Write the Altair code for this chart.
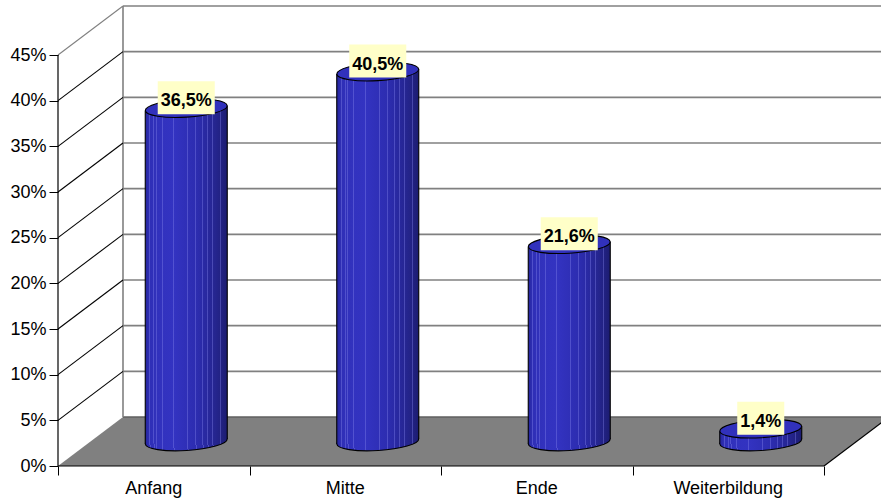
import math

import altair as alt
import pandas as pd

# ---- chart values -------------------------------------------------------
CATEGORIES = ["Anfang", "Mitte", "Ende", "Weiterbildung"]
SHARES = [36.5, 40.5, 21.6, 1.4]
Y_TICKS = [0, 5, 10, 15, 20, 25, 30, 35, 40, 45]

FONT = "Liberation Sans"

# ---- 3D projection geometry ---------------------------------------------
WIDTH, HEIGHT = 823, 460
PX_X = 191.5                 # pixels per category slot along the front edge
PX_Y = 411 / 45              # pixels per percentage point
DX = 65 / PX_X               # depth shift of the back wall (category units)
DY = 49 / PX_Y               # depth shift of the back wall (percent units)
X_MAX = WIDTH / PX_X
Y_MAX = HEIGHT / PX_Y
N = len(CATEGORIES)
TOP = Y_TICKS[-1]

RADIUS_PX = 41
R = RADIUS_PX / PX_X
TILT_DEG = 3.5
T = RADIUS_PX * math.sin(math.radians(TILT_DEG)) / PX_Y
MINOR = 9 / RADIUS_PX

# ellipse outline in unit coordinates for custom point shapes
K = 0.5523
ELLIPSE = (
    f"M-1,0 C-1,{-K * MINOR:.4f} {-K:.4f},{-MINOR:.4f} 0,{-MINOR:.4f} "
    f"C{K:.4f},{-MINOR:.4f} 1,{-K * MINOR:.4f} 1,0 "
    f"C1,{K * MINOR:.4f} {K:.4f},{MINOR:.4f} 0,{MINOR:.4f} "
    f"C{-K:.4f},{MINOR:.4f} -1,{K * MINOR:.4f} -1,0 Z"
)


# ---- cylinder shading ---------------------------------------------------
def _hex(c):
    return tuple(int(c[i:i + 2], 16) for i in (1, 3, 5))


def _mix(a, b, t):
    a, b = _hex(a), _hex(b)
    return "#" + "".join(f"{round(a[i] + (b[i] - a[i]) * t):02x}" for i in range(3))


BASE = [(0.0, "#25259a"), (0.05, "#2f2fb6"), (0.3, "#3434c4"),
        (0.65, "#2c2cae"), (0.9, "#232388"), (1.0, "#1c1c70")]


def base_color(o):
    for (o1, c1), (o2, c2) in zip(BASE, BASE[1:]):
        if o1 <= o <= o2:
            return _mix(c1, c2, (o - o1) / (o2 - o1))
    return BASE[-1][1]


STRIPES = [0.05, 0.1, 0.13, 0.2, 0.34, 0.51, 0.61, 0.695, 0.756, 0.817, 0.915]
stops = [{"offset": 0.0, "color": BASE[0][1]}]
for s in STRIPES:
    w = 0.012
    c = base_color(s)
    light = _mix(c, "#8c8cf0", 0.35)
    stops += [{"offset": s, "color": c}, {"offset": s, "color": light},
              {"offset": s + w, "color": light}, {"offset": s + w, "color": base_color(s + w)}]
stops.append({"offset": 1.0, "color": BASE[-1][1]})
BODY_FILL = {"gradient": "linear", "x1": 0, "x2": 1, "y1": 0, "y2": 0, "stops": stops}

# ---- shared scales and axes ---------------------------------------------
xs = alt.Scale(domain=[0, X_MAX], nice=False, zero=False)
ys = alt.Scale(domain=[0, Y_MAX], nice=False, zero=False)
x_axis = alt.Axis(values=list(range(N + 1)), labels=False, domain=False, grid=False,
                  tickSize=9, tickColor="black", tickWidth=1)
y_axis = alt.Axis(values=Y_TICKS, labelExpr="datum.value + '%'", domain=False, grid=False,
                  tickSize=9, tickColor="black", tickWidth=1, labelFont=FONT,
                  labelFontSize=18, labelColor="black", labelPadding=3)


def X(f):
    return alt.X(f"{f}:Q", scale=xs, axis=x_axis, title=None)


def Y(f):
    return alt.Y(f"{f}:Q", scale=ys, axis=y_axis, title=None)


# ---- floor --------------------------------------------------------------
floor_df = pd.DataFrame({"x": [0, DX, N, N + DX], "y": [0, DY, DY, DY], "y2": [0, 0, 0, DY]})
floor = alt.Chart(floor_df).mark_area(color="#808080", interpolate="linear").encode(
    x=X("x"), y=Y("y"), y2="y2")

# ---- walls, gridlines and edges -----------------------------------------
lines = []
for v in Y_TICKS:
    lines.append({"x": DX, "x2": N + DX, "y": v + DY, "y2": v + DY,
                  "c": "#5f5f5f" if v == 0 else "#808080", "w": 1.6})
lines.append({"x": DX, "x2": DX, "y": DY, "y2": TOP + DY, "c": "#808080", "w": 1.6})
for v in Y_TICKS[1:]:
    lines.append({"x": 0, "x2": DX, "y": v, "y2": v + DY,
                  "c": "#808080" if v == TOP else "black", "w": 1.1})
lines.append({"x": 0, "x2": 0, "y": 0, "y2": TOP, "c": "black", "w": 1.2})
lines.append({"x": 0, "x2": N, "y": 0, "y2": 0, "c": "black", "w": 1.2})
lines.append({"x": N, "x2": N + DX, "y": 0, "y2": DY, "c": "black", "w": 1.1})
lines_df = pd.DataFrame(lines)
frame = alt.Chart(lines_df).mark_rule().encode(
    x=X("x"), x2="x2", y=Y("y"), y2="y2",
    color=alt.Color("c:N", scale=None), strokeWidth=alt.StrokeWidth("w:Q", scale=None))

# ---- cylinders ----------------------------------------------------------
centers = [i + 0.5 + DX / 2 for i in range(N)]
base = DY / 2
cyl_df = pd.DataFrame({"cat": CATEGORIES, "x": centers, "base": base,
                       "top": [v + base for v in SHARES]})

body_rows, side_rows = [], []
for cat, c, v in zip(CATEGORIES, centers, SHARES):
    top = v + base
    body_rows += [{"cat": cat, "x": c - R, "y": top - T, "y2": base - T},
                  {"cat": cat, "x": c + R, "y": top + T, "y2": base + T}]
    side_rows += [{"x": c - R, "y": base - T, "y2": top - T},
                  {"x": c + R, "y": base + T, "y2": top + T}]
body_df = pd.DataFrame(body_rows)
side_df = pd.DataFrame(side_rows)

ellipse_kw = dict(shape=ELLIPSE, size=(2 * RADIUS_PX) ** 2, filled=True, opacity=1,
                  stroke="black", strokeWidth=1.1, angle=360 - TILT_DEG)

bottoms = alt.Chart(cyl_df).mark_point(fill=BODY_FILL, **ellipse_kw).encode(
    x=X("x"), y=Y("base"))
bodies = alt.Chart(body_df).mark_area(fill=BODY_FILL, interpolate="linear").encode(
    x=X("x"), y=Y("y"), y2="y2", detail="cat:N")
sides = alt.Chart(side_df).mark_rule(color="black", strokeWidth=1.1).encode(
    x=X("x"), y=Y("y"), y2="y2")
tops = alt.Chart(cyl_df).mark_point(fill="#3131bc", **ellipse_kw).encode(
    x=X("x"), y=Y("top"))

# ---- value labels -------------------------------------------------------
BOLD_W = {",": 0.278, "%": 0.889}
lab_rows = []
for c, v in zip(centers, SHARES):
    text = f"{v:.1f}".replace(".", ",") + "%"
    bw = 18 * sum(BOLD_W.get(ch, 0.556) for ch in text) + 6
    top = v + base
    lab_rows.append({"x": c, "top": top, "text": text,
                     "bx": c - bw / 2 / PX_X, "bx2": c + bw / 2 / PX_X,
                     "by": top - 6 / PX_Y, "by2": top + 27 / PX_Y})
lab_df = pd.DataFrame(lab_rows)

boxes = alt.Chart(lab_df).mark_rect(color="#ffffc8").encode(
    x=X("bx"), x2="bx2", y=Y("by"), y2="by2")
values = alt.Chart(lab_df).mark_text(
    font=FONT, fontSize=18, fontWeight="bold", color="black",
    align="center", baseline="alphabetic", dy=-2).encode(
    x=X("x"), y=Y("top"), text="text:N")

# ---- category labels ----------------------------------------------------
cat_df = pd.DataFrame({"cat": CATEGORIES, "x": [i + 0.5 for i in range(N)], "y": 0})
cat_labels = alt.Chart(cat_df).mark_text(
    font=FONT, fontSize=18, color="black", align="center",
    baseline="alphabetic", dy=28).encode(x=X("x"), y=Y("y"), text="cat:N")

chart = alt.layer(
    floor, frame, bottoms, bodies, sides, tops, boxes, values, cat_labels
).properties(
    width=WIDTH, height=HEIGHT,
    padding={"left": 58, "top": 6, "right": 0, "bottom": 37},
    autosize=alt.AutoSizeParams(type="none"),
    background="white",
).configure_view(strokeWidth=0)

chart.save("out.html", embed_options={"renderer": "svg", "actions": False})
